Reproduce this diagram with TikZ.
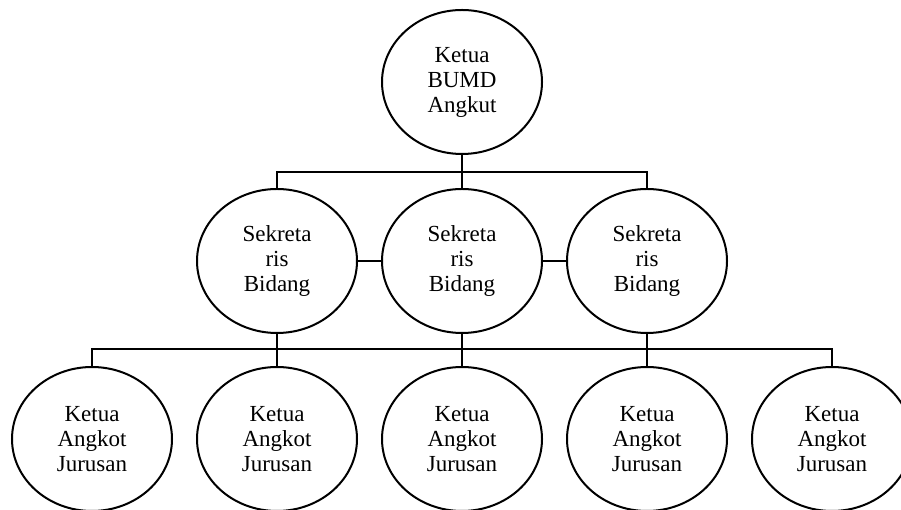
\documentclass[tikz,border=0pt]{standalone}
\usepackage{fontspec}
\setmainfont{Liberation Serif}
\usetikzlibrary{shapes.geometric}
\begin{document}
\begin{tikzpicture}[x=1pt,y=1pt,line width=2pt,
    orang/.style={ellipse,draw,minimum width=160pt,minimum height=144pt,
      align=center,font=\fontsize{23}{25}\selectfont,inner sep=0pt}]
      \useasboundingbox (0,0) rectangle (901,510);
      \draw
        (462,428) node[orang] (ketua){Ketua\\BUMD\\Angkut}
        (277,249) node[orang] (sek1){Sekreta\\ris\\Bidang}
        (462,249) node[orang] (sek2){Sekreta\\ris\\Bidang}
        (647,249) node[orang] (sek3){Sekreta\\ris\\Bidang}
        (92,71) node[orang] (ang1){Ketua\\Angkot\\Jurusan}
        (277,71) node[orang] (ang2){Ketua\\Angkot\\Jurusan}
        (462,71) node[orang] (ang3){Ketua\\Angkot\\Jurusan}
        (647,71) node[orang] (ang4){Ketua\\Angkot\\Jurusan}
        (832,71) node[orang] (ang5){Ketua\\Angkot\\Jurusan};
      \coordinate (busatas) at (462,338);
      \coordinate (busbawah) at (462,161);
      \begin{scope}[-]
        \draw (ketua) to (sek2);
        \draw (sek1.north) -- (sek1.north |- busatas) -- (sek3.north |- busatas) -- (sek3.north);
        \draw (sek1) to (sek2);
        \draw (sek2) to (sek3);
        \draw (sek2) to (ang3);
        \draw (sek1) to (ang2);
        \draw (sek3) to (ang4);
        \draw (ang1.north) -- (ang1.north |- busbawah) -- (ang5.north |- busbawah) -- (ang5.north);
      \end{scope}
    \end{tikzpicture}
\end{document}
